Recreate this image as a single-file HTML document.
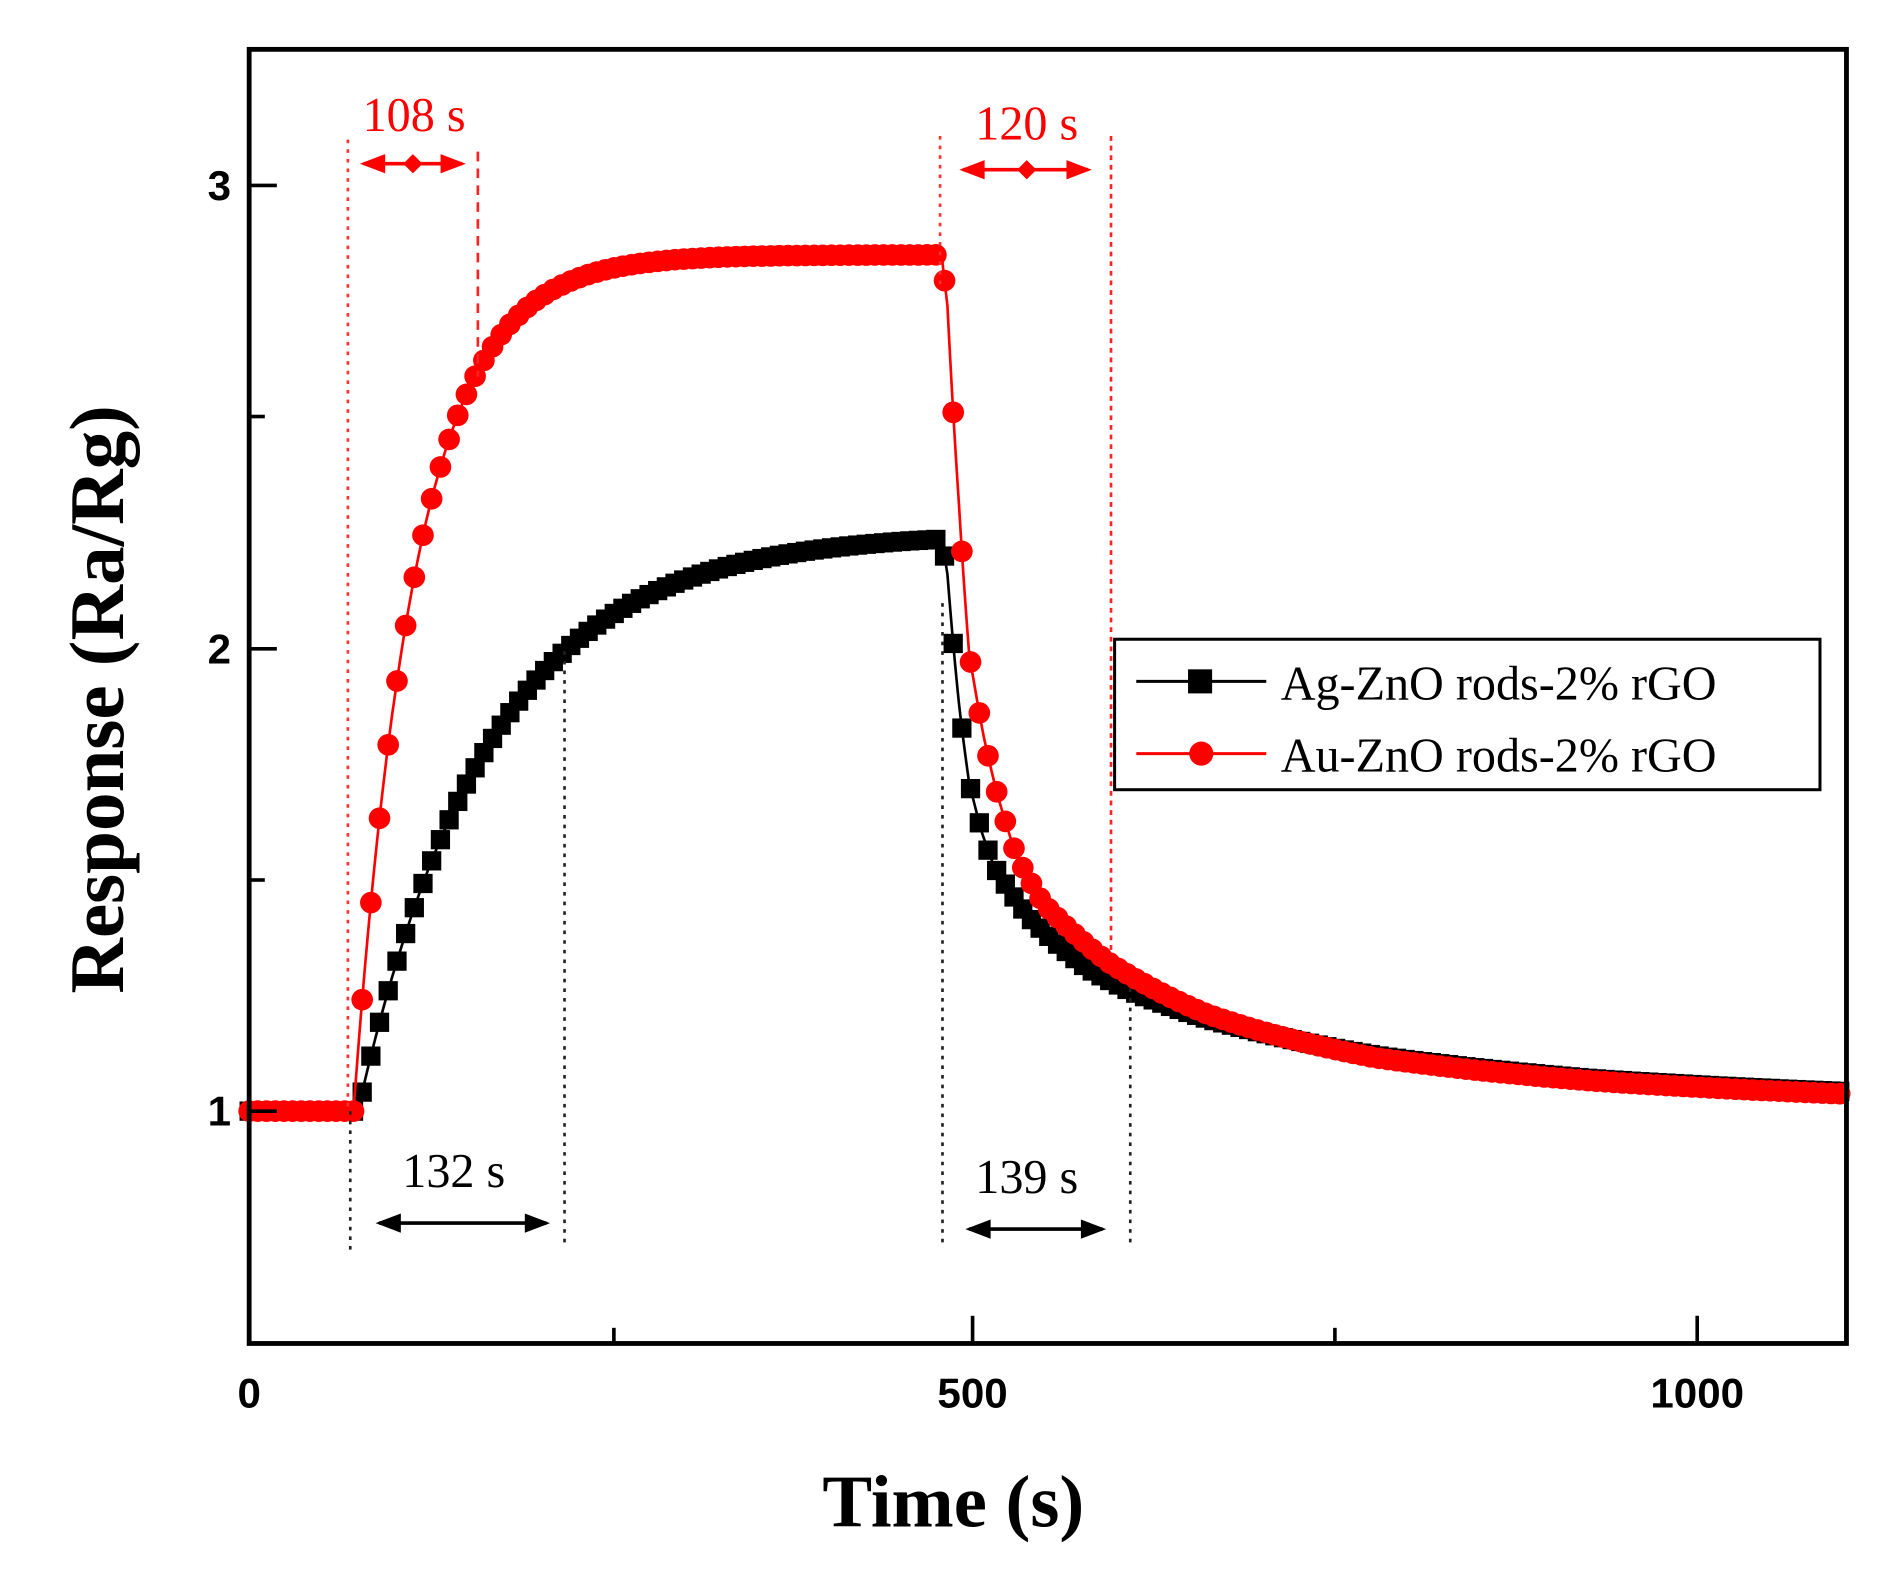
<!DOCTYPE html>
<html><head><meta charset="utf-8"><style>
html,body{margin:0;padding:0;background:#fff;}
svg{display:block;}
</style></head><body>
<svg id="s" width="1891" height="1571" viewBox="-2 -1 1571 1305" preserveAspectRatio="none" xmlns="http://www.w3.org/2000/svg">
<rect x="-2" y="-1" width="1571" height="1305" fill="#fff"/>
<g id="data"></g>
<g fill="none" stroke-width="2.2">
<line x1="287" y1="115" x2="287" y2="922" stroke="#f33" stroke-dasharray="3,5"/>
<line x1="395" y1="125" x2="395" y2="312" stroke="#f22" stroke-dasharray="8,6"/>
<line x1="779" y1="112" x2="779" y2="240" stroke="#f33" stroke-dasharray="3,5"/>
<line x1="921" y1="112" x2="921" y2="790" stroke="#f22" stroke-dasharray="4,4"/>
<line x1="289" y1="922" x2="289" y2="1040" stroke="#222" stroke-dasharray="3,5"/>
<line x1="467" y1="540" x2="467" y2="1032" stroke="#222" stroke-dasharray="3,5"/>
<line x1="781" y1="500" x2="781" y2="1035" stroke="#222" stroke-dasharray="3,5"/>
<line x1="937" y1="820" x2="937" y2="1035" stroke="#222" stroke-dasharray="3,5"/>
<line x1="300" y1="135" x2="382" y2="135" stroke="#f00" stroke-width="3"/>
<line x1="798" y1="140" x2="902" y2="140" stroke="#f00" stroke-width="3"/>
<line x1="313" y1="1015" x2="452" y2="1015" stroke="#000" stroke-width="3"/>
<line x1="803" y1="1020" x2="914" y2="1020" stroke="#000" stroke-width="3"/>
</g>
<g fill="#f00">
<polygon points="297,135 318,127 318,143"/><polygon points="385,135 364,127 364,143"/><polygon points="341,127 349,135 341,143 333,135"/>
<polygon points="795,140 816,132 816,148"/><polygon points="905,140 884,132 884,148"/><polygon points="851,132 859,140 851,148 843,140"/>
</g>
<g fill="#000">
<polygon points="310,1015 331,1007 331,1023"/><polygon points="455,1015 434,1007 434,1023"/>
<polygon points="800,1020 821,1012 821,1028"/><polygon points="917,1020 896,1012 896,1028"/>
</g>
<g font-family="Liberation Serif, serif" font-size="40" text-anchor="middle">
<text x="342" y="108" fill="#f00">108 s</text>
<text x="851" y="115" fill="#f00">120 s</text>
<text x="375" y="985" fill="#000">132 s</text>
<text x="851" y="990" fill="#000">139 s</text>
</g>
<rect x="205" y="40" width="1327" height="1075" fill="none" stroke="#000" stroke-width="4"/>
<g stroke="#000" stroke-width="3">
<line x1="205" y1="153" x2="228" y2="153"/><line x1="205" y1="538" x2="228" y2="538"/><line x1="205" y1="922" x2="228" y2="922"/>
<line x1="205" y1="345" x2="218" y2="345"/><line x1="205" y1="730" x2="218" y2="730"/>
<line x1="806" y1="1115" x2="806" y2="1092"/><line x1="1408" y1="1115" x2="1408" y2="1092"/>
<line x1="508" y1="1115" x2="508" y2="1102"/><line x1="1107" y1="1115" x2="1107" y2="1102"/>
</g>
<g font-family="Liberation Sans, sans-serif" font-size="35" font-weight="bold">
<text x="190" y="165" text-anchor="end">3</text>
<text x="190" y="550" text-anchor="end">2</text>
<text x="190" y="934" text-anchor="end">1</text>
<text x="205" y="1168" text-anchor="middle">0</text>
<text x="806" y="1168" text-anchor="middle">500</text>
<text x="1408" y="1168" text-anchor="middle">1000</text>
</g>
<text x="790" y="1267" font-family="Liberation Serif, serif" font-size="62" font-weight="bold" text-anchor="middle">Time (s)</text>
<text transform="translate(100,580) rotate(-90)" font-family="Liberation Serif, serif" font-size="64" font-weight="bold" text-anchor="middle">Response (Ra/Rg)</text>
<rect x="924" y="530" width="586" height="125" fill="#fff" stroke="#000" stroke-width="2.5"/>
<line x1="942" y1="565" x2="1050" y2="565" stroke="#000" stroke-width="2.5"/>
<rect x="985" y="555" width="20" height="20" fill="#000"/>
<line x1="942" y1="625" x2="1050" y2="625" stroke="#f00" stroke-width="2.5"/>
<circle cx="996" cy="625" r="10" fill="#f00"/>
<g font-family="Liberation Serif, serif" font-size="40">
<text x="1062" y="580">Ag-ZnO rods-2% rGO</text>
<text x="1062" y="640">Au-ZnO rods-2% rGO</text>
</g>
</svg>
<script>
(function(){
function X(t){return 205+t*1.2035;}
function Y(v){return 922-(v-1)*384.5;}
function interp(tab,s){for(var i=0;i<tab.length-1;i++){if(s<=tab[i+1][0]){var a=tab[i],b=tab[i+1],f=(s-a[0])/(b[0]-a[0]);return Math.exp(Math.log(a[1])+(Math.log(b[1])-Math.log(a[1]))*f);}}return tab[tab.length-1][1];}
var redD=[[0,1.85],[4,1.74],[12,1.31],[19,0.99],[29,0.81],[38,0.69],[52,0.55],[70,0.45],[116,0.32],[183,0.21],[300,0.115],[450,0.065],[625,0.037],[700,0.033]];
var blkD=[[0,1.24],[4,1.16],[12,0.88],[19,0.71],[28,0.6],[36,0.53],[60,0.42],[100,0.31],[130,0.26],[183,0.2],[300,0.12],[450,0.07],[625,0.042],[700,0.038]];
function red(t){if(t<72)return 1;if(t<478)return 1+1.85*(1-Math.exp(-(t-72)/43));return 1+interp(redD,t-478);}
function blk(t){if(t<75)return 1;if(t<478)return 1+1.25*(1-Math.exp(-(t-75)/90));return 1+interp(blkD,t-478);}
var g=document.getElementById('data'),h='';
var ts=[];for(var t=0;t<=1103;t+=6)ts.push(t);
[blk,red].forEach(function(f,k){
 var p=[];for(var t=0;t<=1103;t+=1)p.push(X(t).toFixed(1)+','+Y(f(t)).toFixed(1));
 h+='<polyline fill="none" stroke="'+(k?'#f00':'#000')+'" stroke-width="2.2" points="'+p.join(' ')+'"/>';
 ts.forEach(function(t){var x=X(t),y=Y(f(t));
  if(k)h+='<circle cx="'+x.toFixed(1)+'" cy="'+y.toFixed(1)+'" r="9" fill="#f00"/>';
  else h+='<rect x="'+(x-8).toFixed(1)+'" y="'+(y-8).toFixed(1)+'" width="16" height="16" fill="#000"/>';});
});
g.innerHTML=h;
})();
</script>
</body></html>
